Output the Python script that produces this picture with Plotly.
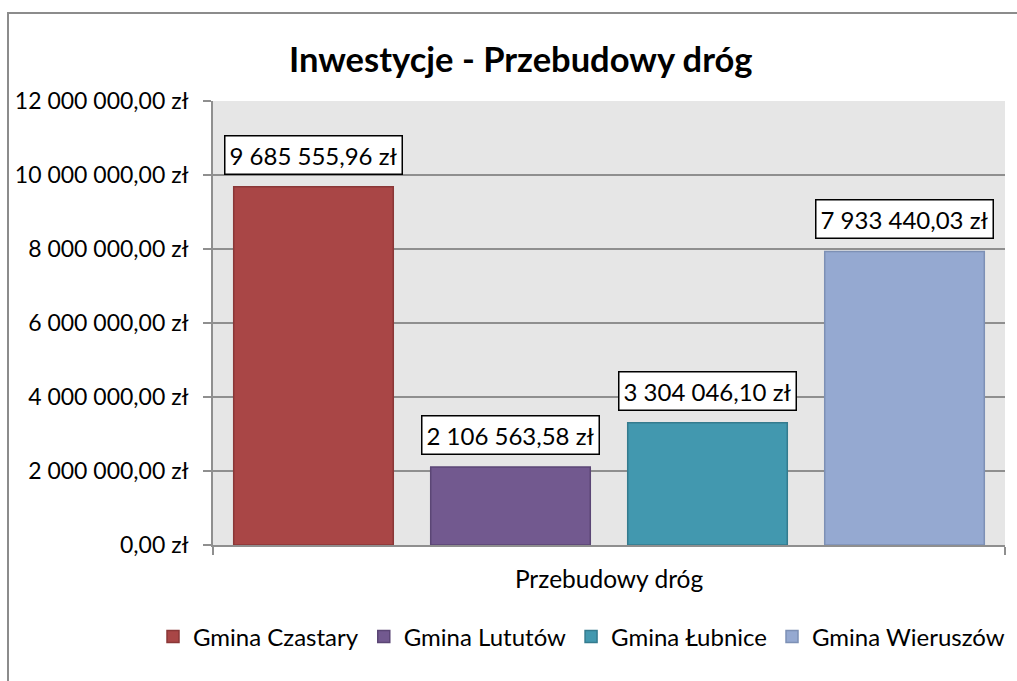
import plotly.graph_objects as go

title = "Inwestycje - Przebudowy dróg"
category = ["Przebudowy dróg"]
series_names = ["Gmina Czastary", "Gmina Lututów", "Gmina Łubnice", "Gmina Wieruszów"]
values = [9685555.96, 2106563.58, 3304046.10, 7933440.03]
fill_colors = ["#A94646", "#72598F", "#4298AF", "#95A9D1"]
line_colors = ["#8A3737", "#5B4675", "#347B8E", "#7D90B5"]
y_ticks = [0, 2e6, 4e6, 6e6, 8e6, 10e6, 12e6]

FONT = "Lato"
bargap = 0.005
bargroupgap = 0.19

def fmt(v):
    s = f"{v:,.2f}"
    return s.replace(",", " ").replace(".", ",") + " zł"

fig = go.Figure()
for name, v, fc, lc in zip(series_names, values, fill_colors, line_colors):
    fig.add_trace(go.Bar(
        name=name, x=category, y=[v],
        marker=dict(color=fc, line=dict(color=lc, width=1.5)),
        hoverinfo="skip",
    ))

n = len(series_names)
slot = (1 - bargap) / n
annotations = []
for i, v in enumerate(values):
    xpos = -0.5 + bargap / 2 + slot * (i + 0.5)
    annotations.append(dict(
        x=xpos, y=v, xref="x", yref="y", text=fmt(v), showarrow=False,
        yanchor="bottom", yshift=12,
        font=dict(family=FONT, size=24, color="black"),
        bgcolor="white", bordercolor="black", borderwidth=1.5, borderpad=4,
    ))

fig.update_layout(
    width=1017, height=681,
    margin=dict(l=213, r=12, t=101, b=136, autoexpand=False),
    paper_bgcolor="white", plot_bgcolor="#E6E6E6",
    barmode="group", bargap=bargap, bargroupgap=bargroupgap,
    title=dict(text=f"<b>{title}</b>", x=0.512, xanchor="center", y=0.912, yanchor="middle",
               font=dict(family=FONT, size=34.5, color="black")),
    font=dict(family=FONT, size=23, color="black"),
    showlegend=True,
    legend=dict(orientation="h", xref="paper", x=(153 - 213) / 792, xanchor="left",
                y=-0.207, yanchor="middle",
                font=dict(family=FONT, size=24, color="black"), itemwidth=30,
                traceorder="normal", tracegroupgap=0, itemclick=False),
    annotations=annotations,
    xaxis=dict(type="category", tickson="boundaries", ticks="outside", ticklen=8,
               tickcolor="#8F8F8F", tickwidth=1.5, showline=True, linecolor="#8F8F8F",
               linewidth=1.5, showgrid=False, tickfont=dict(family=FONT, size=24.5),
               ticklabelstandoff=12, fixedrange=True),
    yaxis=dict(range=[0, 12e6], tickvals=y_ticks, ticktext=[fmt(v) for v in y_ticks],
               ticks="outside", ticklen=8, tickcolor="#8F8F8F", tickwidth=1.5,
               showline=True, linecolor="#8F8F8F", linewidth=1.5,
               showgrid=True, gridcolor="#8F8F8F", gridwidth=1.5, zeroline=False,
               tickfont=dict(family=FONT, size=23), ticklabelstandoff=10, fixedrange=True),
    shapes=[dict(type="rect", xref="paper", yref="paper",
                 x0=-205/792, x1=1.2, y0=-0.5, y1=532/444,
                 line=dict(color="#8C8C8C", width=2), fillcolor="rgba(0,0,0,0)", layer="below")],
)

fig.write_html("out.html", config={"displayModeBar": False},
               post_script="document.body.style.margin='0';")
